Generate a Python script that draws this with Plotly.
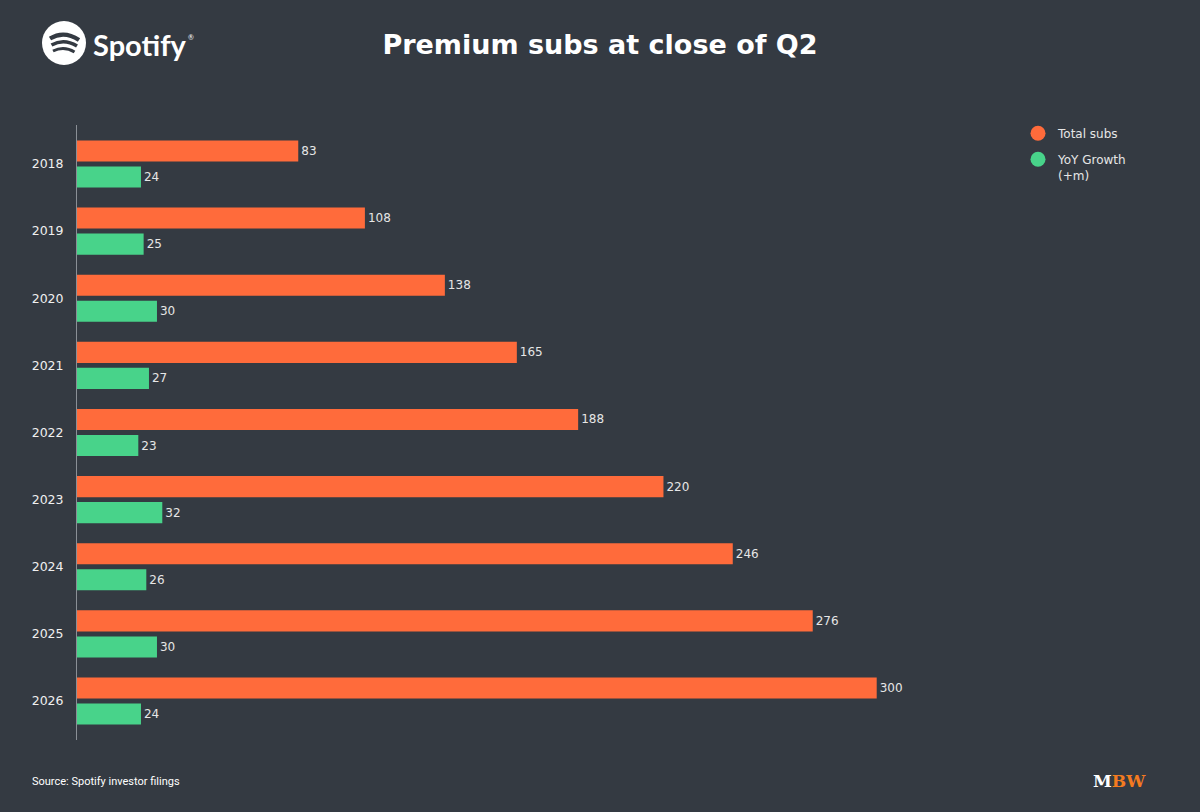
import plotly.graph_objects as go

# Data
years = ["2018", "2019", "2020", "2021", "2022", "2023", "2024", "2025", "2026"]
total_subs = [83, 108, 138, 165, 188, 220, 246, 276, 300]
yoy_growth = [24, 25, 30, 27, 23, 32, 26, 30, 24]

BG = "#343a42"
ORANGE = "#ff6b3b"
GREEN = "#48d38a"
TXT = "#e6e6e6"

W, H = 1200, 812
L, R, T, B = 77, 1010, 125, 740  # plot area in pixels


def px(x):
    return (x - L) / (R - L)


def py(y):
    return (B - y) / (B - T)


fig = go.Figure()

fig.add_trace(go.Bar(
    y=years, x=total_subs, orientation="h", name="Total subs",
    marker=dict(color=ORANGE, line=dict(width=0)),
    text=total_subs, textposition="outside", cliponaxis=False,
    textfont=dict(color=TXT, size=12, family="DejaVu Sans"),
    showlegend=False,
))
fig.add_trace(go.Bar(
    y=years, x=yoy_growth, orientation="h", name="YoY Growth (+m)",
    marker=dict(color=GREEN, line=dict(width=0)),
    text=yoy_growth, textposition="outside", cliponaxis=False,
    textfont=dict(color=TXT, size=12, family="DejaVu Sans"),
    showlegend=False,
))

# legend entries with round markers
fig.add_trace(go.Scatter(x=[None], y=[None], mode="markers", name="Total subs",
                         legendgroup="a",
                         marker=dict(color=ORANGE, size=15, symbol="circle")))
fig.add_trace(go.Scatter(x=[None], y=[None], mode="markers", name="YoY Growth<br>(+m)",
                         legendgroup="b",
                         marker=dict(color=GREEN, size=15, symbol="circle")))

# Spotify logo: white disc with three dark arcs
shapes = [dict(type="circle", xref="paper", yref="paper",
               x0=px(42), x1=px(86), y0=py(65), y1=py(21),
               fillcolor="white", line=dict(width=0), layer="above")]
arcs = [((50, 38.5), (64, 30), (79, 40), 4.2),
        ((51.5, 45), (64, 38), (77, 46), 3.6),
        ((53, 51), (64, 45.5), (74.5, 52), 3.0)]
for (x0, y0), (cx, cy), (x1, y1), w in arcs:
    path = "M %f,%f Q %f,%f %f,%f" % (px(x0), py(y0), px(cx), py(cy), px(x1), py(y1))
    shapes.append(dict(type="path", xref="paper", yref="paper", path=path,
                       line=dict(color=BG, width=w), layer="above"))

annotations = [
    dict(text="<b>Spotify</b>", x=px(91), y=py(44), xref="paper", yref="paper",
         xanchor="left", yanchor="middle", showarrow=False,
         font=dict(family="Lato", size=29, color="white")),
    dict(text="®", x=px(186), y=py(37), xref="paper", yref="paper",
         xanchor="left", yanchor="middle", showarrow=False,
         font=dict(family="Lato", size=7, color="white")),
    dict(text="Source: Spotify investor filings", x=px(30), y=py(781),
         xref="paper", yref="paper", xanchor="left", yanchor="middle",
         showarrow=False, font=dict(family="Roboto", size=11, color="white")),
    dict(text="<b>M<span style='color:#f47b20'>BW</span></b>", x=px(1119), y=py(781),
         xref="paper", yref="paper", xanchor="center", yanchor="middle",
         showarrow=False,
         font=dict(family="DejaVu Serif", size=17, color="white")),
]

fig.update_layout(
    width=W, height=H,
    paper_bgcolor=BG, plot_bgcolor=BG,
    margin=dict(l=L, r=W - R, t=T, b=H - B, pad=0),
    title=dict(text="<b>Premium subs at close of Q2</b>", x=0.5, xref="container",
               xanchor="center", y=1 - 45 / H, yref="container", yanchor="middle",
               font=dict(family="DejaVu Sans", size=27, color="white")),
    barmode="group", bargap=0.225, bargroupgap=0.19,
    xaxis=dict(range=[0, 350], visible=False, fixedrange=True),
    yaxis=dict(type="category", range=[8.58, -0.58], showline=True,
               linecolor="#8a8f96", linewidth=1, showgrid=False, zeroline=False,
               ticks="", ticklabelstandoff=10,
               tickfont=dict(family="DejaVu Sans", size=12.5, color="#f0f0f0")),
    legend=dict(x=px(1018), y=py(119), xanchor="left", yanchor="top",
                font=dict(family="DejaVu Sans", size=12, color=TXT),
                bgcolor="rgba(0,0,0,0)", itemwidth=30, valign="top",
                tracegroupgap=7),
    shapes=shapes, annotations=annotations,
    showlegend=True,
)

fig.write_html("out.html", config={"displayModeBar": False},
               post_script="document.body.style.margin='0';")
